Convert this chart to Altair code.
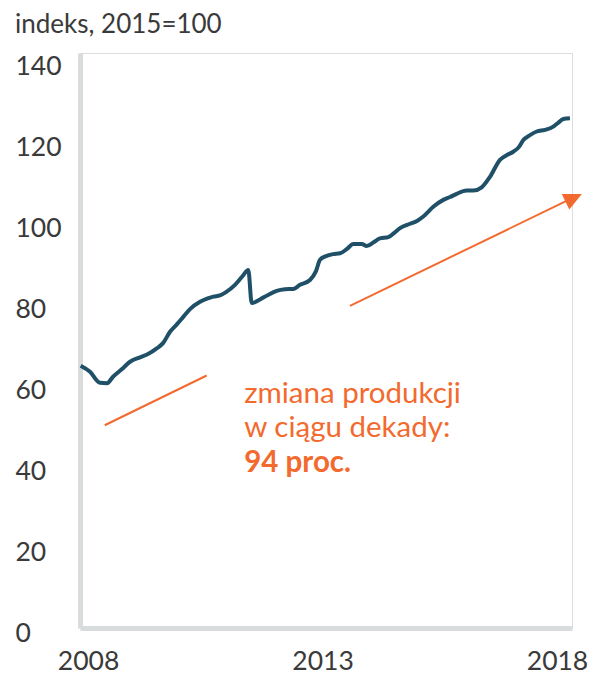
import altair as alt
import pandas as pd

# index values (2015=100)
years = [2008.344, 2008.543, 2008.756, 2008.905, 2009.033, 2009.225, 2009.396, 2009.609, 2009.779, 2009.965,
         2010.099, 2010.249, 2010.398, 2010.532, 2010.675, 2010.888, 2011.037, 2011.172, 2011.314, 2011.442,
         2011.634, 2011.784, 2011.918, 2011.990, 2012.167, 2012.338, 2012.523, 2012.700, 2012.877, 2013.020,
         2013.233, 2013.361, 2013.447, 2013.575, 2013.724, 2013.873, 2014.023, 2014.157, 2014.336, 2014.442,
         2014.598, 2014.726, 2014.903, 2015.024, 2015.152, 2015.366, 2015.515, 2015.649, 2015.862, 2016.076,
         2016.219, 2016.361, 2016.575, 2016.715, 2016.894, 2017.071, 2017.284, 2017.434, 2017.568, 2017.690,
         2017.782, 2017.924, 2018.067, 2018.244, 2018.421, 2018.521, 2018.634, 2018.777]
values = [64.8, 63.3, 60.6, 60.5, 62.1, 64.0, 65.8, 66.9, 67.7, 69.1,
          70.4, 73.2, 75.1, 76.9, 78.8, 80.6, 81.4, 81.9, 82.2, 83.0,
          84.8, 86.8, 88.5, 80.3, 81.2, 82.3, 83.3, 83.7, 83.8, 84.8,
          86.0, 88.2, 91.0, 91.9, 92.4, 92.6, 93.7, 94.9, 94.9, 94.4,
          95.4, 96.3, 96.6, 97.6, 98.8, 99.9, 100.6, 101.7, 104.1, 105.8,
          106.5, 107.3, 108.1, 108.1, 108.9, 111.5, 115.7, 116.9, 117.7, 118.9,
          120.6, 121.8, 122.7, 123.1, 123.9, 124.8, 125.8, 126.0]

# trend annotation lines (start/end in data units)
trend_id = ["a", "a", "b", "b"]
trend_year = [2008.856, 2011.031, 2014.086, 2018.692]
trend_value = [50.1, 62.4, 79.6, 105.5]
arrow_year = [2018.856]
arrow_value = [106.3]

note_lines = ["zmiana produkcji", "w ciągu dekady:"]
note_year = [2011.83, 2011.83]
note_value = [55.6, 47.2]
bold_line = ["94 proc."]
bold_year = [2011.83]
bold_value = [38.6]

x_ticks = [2008.5, 2013.5, 2018.5]   # labels sit at the middle of each year
y_ticks = [0, 20, 40, 60, 80, 100, 120, 140]

TEAL = "#1f5068"
ORANGE = "#f26a2e"
GREY = "#d9dcdc"
TEXT = "#3a3a3a"
FONT = "Lato"

df = pd.DataFrame({"year": years, "value": values})
trend = pd.DataFrame({"id": trend_id, "year": trend_year, "value": trend_value})
arrow = pd.DataFrame({"year": arrow_year, "value": arrow_value})
notes = pd.DataFrame({"text": note_lines, "year": note_year, "value": note_value})
bold = pd.DataFrame({"text": bold_line, "year": bold_year, "value": bold_value})

xscale = alt.Scale(domain=[2008.329, 2018.82], nice=False, zero=False)
yscale = alt.Scale(domain=[0, 142.1], nice=False)

xaxis = alt.Axis(values=x_ticks, labelExpr="floor(datum.value)", title=None, grid=False,
                 ticks=False, tickSize=0, domainColor=GREY, domainWidth=5, labelFont=FONT,
                 labelFontSize=26.5, labelColor=TEXT, labelPadding=41,
                 labelBaseline="alphabetic", labelAlign="center")
yaxis = alt.Axis(values=y_ticks, title=None, grid=False, ticks=False, tickSize=0,
                 domainColor=GREY, domainWidth=5, labelFont=FONT, labelFontSize=26.5,
                 labelColor=TEXT, labelPadding=65, labelAlign="left", labelBaseline="middle",
                 labelOffset=5)

line = alt.Chart(df).mark_line(color=TEAL, strokeWidth=4, interpolate="monotone").encode(
    x=alt.X("year:Q", scale=xscale, axis=xaxis),
    y=alt.Y("value:Q", scale=yscale, axis=yaxis),
)

trend_lines = alt.Chart(trend).mark_line(color=ORANGE, strokeWidth=2).encode(
    x=alt.X("year:Q", scale=xscale),
    y=alt.Y("value:Q", scale=yscale),
    detail="id:N",
)

head = alt.Chart(arrow).mark_point(
    shape="M-1,-0.95L1,0L-1,0.95Z", filled=True, color=ORANGE, opacity=1,
    size=330, angle=334, strokeWidth=0,
).encode(x=alt.X("year:Q", scale=xscale), y=alt.Y("value:Q", scale=yscale))

note = alt.Chart(notes).mark_text(
    align="left", baseline="alphabetic", font=FONT, fontSize=29.5, color=ORANGE
).encode(x=alt.X("year:Q", scale=xscale), y=alt.Y("value:Q", scale=yscale), text="text:N")

note_bold = alt.Chart(bold).mark_text(
    align="left", baseline="alphabetic", font=FONT, fontSize=29.5, fontWeight="bold", color=ORANGE
).encode(x=alt.X("year:Q", scale=xscale), y=alt.Y("value:Q", scale=yscale), text="text:N")

chart = alt.layer(line, trend_lines, head, note, note_bold).properties(
    width=492,
    height=575,
    autosize=alt.AutoSizeParams(type="none"),
    padding={"left": 72, "top": 45, "right": 20, "bottom": 46},
    title=alt.TitleParams(
        "indeks, 2015=100", anchor="start", frame="group", dx=-65, dy=27, offset=21,
        baseline="alphabetic", font=FONT, fontSize=26, fontWeight="normal", color=TEXT,
    ),
).configure_view(stroke=None).configure(background="white")

chart.save("out.html", embed_options={"renderer": "svg", "actions": False})
